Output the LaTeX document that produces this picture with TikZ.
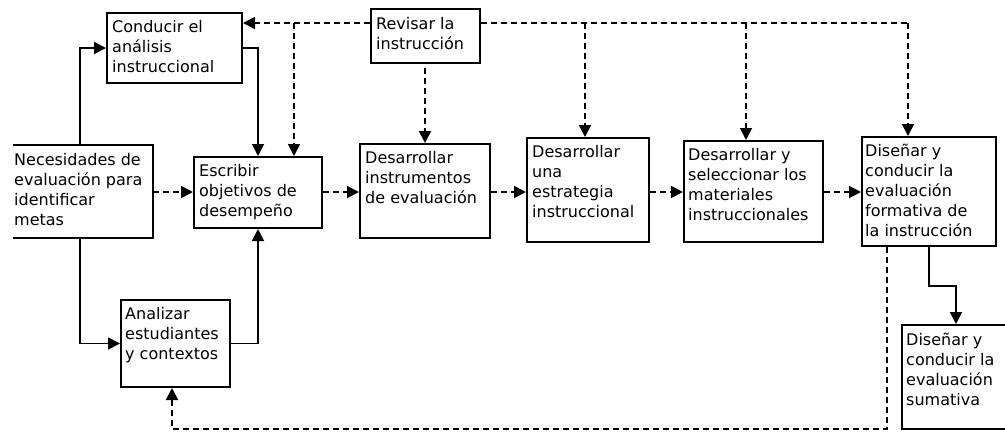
\documentclass[tikz,border=0pt]{standalone}
\usepackage{fontspec}
\setmainfont{DejaVu Sans}
\usetikzlibrary{arrows.meta,calc}
\tikzset{
  x=1pt,y=-1pt,
  boxline/.style={line width=2pt},
  box/.style={boxline,draw,rectangle,inner sep=0pt,anchor=north west},
  nobox/.style={rectangle,inner sep=0pt,anchor=north west},
  txt/.style={inner sep=0pt,anchor=north west,align=left,font=\fontsize{16}{20}\selectfont},
  conn/.style={line width=1.8pt,-{Triangle[length=12pt,width=12pt]}},
  dconn/.style={conn,dash pattern=on 6pt off 4pt},
  dline/.style={line width=1.8pt,dash pattern=on 6pt off 4pt},
}
\newcommand{\fs}{\rule{0pt}{20pt}}
\begin{document}
\begin{tikzpicture}
\useasboundingbox (0,0) rectangle (1005,432);
% boxes
\node[nobox,minimum width=140pt,minimum height=93pt] (nec) at (13,145) {};
\draw[boxline] (nec.north west) -- (nec.north east) -- (nec.south east) -- (nec.south west);
\node[box,minimum width=135pt,minimum height=70pt] (an) at (106,12) {};
\node[box,minimum width=128pt,minimum height=71pt] (esc) at (193,156) {};
\node[box,minimum width=109pt,minimum height=87pt] (anal) at (120,299) {};
\node[box,minimum width=109pt,minimum height=54pt] (rev) at (370,8) {};
\node[box,minimum width=130pt,minimum height=94pt] (inst) at (359,143) {};
\node[box,minimum width=122pt,minimum height=104pt] (est) at (526,137) {};
\node[box,minimum width=139pt,minimum height=101pt] (mat) at (683,140) {};
\node[box,minimum width=134pt,minimum height=109pt] (form) at (861,136) {};
\node[box,minimum width=108pt,minimum height=104pt] (sum) at (901,324) {};
% texts
\node[txt] at ($(nec.north west)+(1,0)$) {\fs Necesidades de\\evaluación para\\identificar\\metas};
\node[txt] at ($(an.north west)+(6,0)$) {\fs Conducir el\\análisis\\instruccional};
\node[txt] at ($(esc.north west)+(6,0)$) {\fs Escribir\\objetivos de\\desempeño};
\node[txt] at ($(anal.north west)+(5,0)$) {\fs Analizar\\estudiantes\\y contextos};
\node[txt] at ($(rev.north west)+(6,1)$) {\fs Revisar la\\instrucción};
\node[txt] at ($(inst.north west)+(6,0)$) {\fs Desarrollar\\instrumentos\\de evaluación};
\node[txt] at ($(est.north west)+(6,0)$) {\fs Desarrollar\\una\\estrategia\\instruccional};
\node[txt] at ($(mat.north west)+(5,0)$) {\fs Desarrollar y\\seleccionar los\\materiales\\instruccionales};
\node[txt] at ($(form.north west)+(4,0)$) {\fs Diseñar y\\conducir la\\evaluación\\formativa de\\la instrucción};
\node[txt] at ($(sum.north west)+(5,1)$) {\fs Diseñar y\\conducir la\\evaluación\\sumativa};
% solid connectors
\draw[conn] (nec.north -| 80,0) |- (an.west);
\draw[conn] (nec.south -| 80,0) |- (anal.west);
\draw[conn] (an.east) -| (esc.north);
\draw[conn] (anal.east) -| (esc.south);
\draw[conn] (form.south) -- ++(0,39) -| (sum.north);
% dashed horizontal chain
\draw[dconn] (nec.east |- 0,192) -- (esc.west |- 0,192);
\draw[dconn] (esc.east |- 0,192) -- (inst.west |- 0,192);
\draw[dconn] (inst.east |- 0,192) -- (est.west |- 0,192);
\draw[dconn] (est.east |- 0,192) -- (mat.west |- 0,192);
\draw[dconn] (mat.east |- 0,192) -- (form.west |- 0,192);
% revision feedback
\coordinate (t1) at (294,23);
\coordinate (t2) at (585,23);
\coordinate (t3) at (746,23);
\coordinate (t4) at (908,23);
\draw[dconn] (rev.west |- t1) -- (an.east |- t1);
\draw[dconn] (t1) -- (esc.north -| t1);
\draw[dline] (rev.east |- t4) -- (t4);
\draw[dconn] (t4) -- (form.north -| t4);
\draw[dconn] (t2) -- (est.north -| t2);
\draw[dconn] (t3) -- (mat.north -| t3);
\draw[dconn] ([yshift=-4pt]rev.south -| inst.north) -- (inst.north);
% bottom feedback
\coordinate (b1) at (887,429);
\coordinate (b2) at (172,429);
\draw[dconn] (form.south -| b1) -- (b1) -- (b2) -- (anal.south -| b2);
\end{tikzpicture}
\end{document}
